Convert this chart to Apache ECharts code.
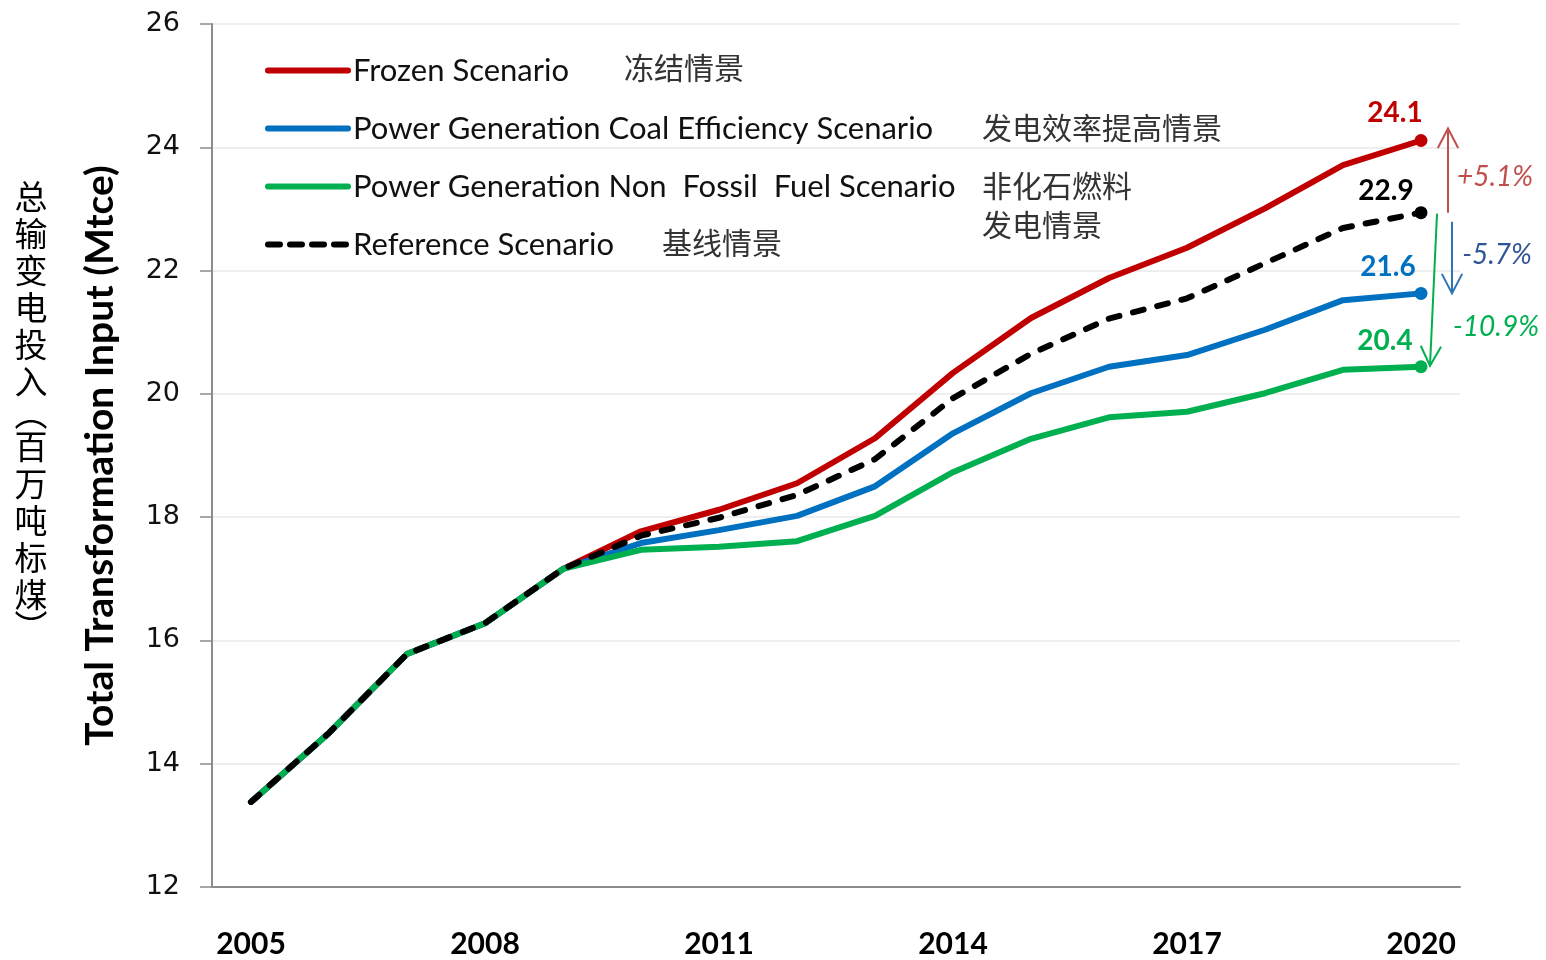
<!DOCTYPE html>
<html>
<head>
<meta charset="utf-8">
<script src="https://cdn.jsdelivr.net/npm/echarts@6.0.0/dist/echarts.min.js"></script>
</head>
<body style="margin:0">
<div id="main" style="width:1546px;height:960px;"></div>
<script type="text/javascript">
// data
var years = ['2005', '2006', '2007', '2008', '2009', '2010', '2011', '2012',
             '2013', '2014', '2015', '2016', '2017', '2018', '2019', '2020'];
var frozen = [13.38, 14.50, 15.78, 16.28, 17.16, 17.77, 18.12, 18.55, 19.28, 20.34, 21.23, 21.88, 22.37, 23.01, 23.71, 24.11];
var coalEff = [13.38, 14.50, 15.78, 16.28, 17.16, 17.58, 17.79, 18.02, 18.50, 19.36, 20.01, 20.44, 20.63, 21.04, 21.52, 21.63];
var nonFossil = [13.38, 14.50, 15.78, 16.28, 17.16, 17.47, 17.52, 17.61, 18.02, 18.73, 19.27, 19.62, 19.71, 20.01, 20.39, 20.44];
var reference = [13.38, 14.50, 15.78, 16.28, 17.16, 17.70, 17.99, 18.36, 18.94, 19.93, 20.65, 21.22, 21.55, 22.12, 22.69, 22.94];
var seriesNames = ['Frozen Scenario', 'Power Generation Coal Efficiency Scenario',
                   'Power Generation Non  Fossil  Fuel Scenario', 'Reference Scenario'];
var changeLabels = ['+5.1%', '-5.7%', '-10.9%'];
var yTitleZh = ['总', '输', '变', '电', '投', '入', '︵', '百', '万', '吨', '标', '煤', '︶'];

var myChart = echarts.init(document.getElementById('main'));
var last = years.length - 1;
var en = 'Lato';
var zh = '"Noto Sans CJK SC"';
var refDash = [11, 14];

function makeSeries(name, values, color, dashed, labelOffset) {
    return {
        name: name,
        type: 'line',
        data: values.map(function (v, i) {
            if (i !== last) return v;
            return {
                value: v,
                symbolSize: 13,
                label: {
                    show: true, position: 'top', offset: labelOffset,
                    formatter: function (p) { return p.value.toFixed(1); },
                    fontFamily: en, fontWeight: 'bold', fontSize: 28, color: color
                }
            };
        }),
        symbol: 'circle',
        symbolSize: 0,
        itemStyle: { color: color },
        lineStyle: { color: color, width: 6, type: dashed ? refDash : 'solid', cap: 'round' },
        emphasis: { disabled: true },
        animation: false
    };
}

var option = {
    grid: { left: 212, right: 86, top: 24, bottom: 73 },
    legend: {
        orient: 'vertical',
        left: 260,
        top: 50,
        itemWidth: 80,
        itemHeight: 14,
        itemGap: 27,
        itemStyle: { opacity: 0 },
        lineStyle: { width: 6, cap: 'round' },
        textStyle: { fontFamily: en, fontSize: 31, color: '#111', lineHeight: 31 },
        data: seriesNames.map(function (n, i) {
            return i === 3 ? { name: n, lineStyle: { width: 6, type: [12, 10], cap: 'round' } } : { name: n };
        })
    },
    xAxis: {
        type: 'category',
        data: years,
        boundaryGap: true,
        axisLine: { lineStyle: { color: '#8c8c8c', width: 2 } },
        axisTick: { interval: 0, length: 10, lineStyle: { color: '#8c8c8c', width: 1.5 } },
        axisLabel: {
            interval: 2, margin: 42,
            fontFamily: en, fontWeight: 'bold', fontSize: 30, color: '#000'
        }
    },
    yAxis: {
        type: 'value',
        min: 12, max: 26, interval: 2,
        name: 'Total Transformation Input (Mtce)',
        nameLocation: 'middle',
        nameGap: 92,
        nameTextStyle: { fontFamily: en, fontWeight: 'bold', fontSize: 39, color: '#000' },
        axisLine: { show: true, lineStyle: { color: '#8c8c8c', width: 2 } },
        axisTick: { show: true, length: 12, lineStyle: { color: '#8c8c8c', width: 1.5 } },
        axisLabel: { margin: 32, fontFamily: 'DejaVu Sans', fontSize: 27, color: '#111' },
        splitLine: { lineStyle: { color: '#eeeeee', width: 2 } }
    },
    series: [
        makeSeries(seriesNames[0], frozen, '#C00000', false, [-26, -2]),
        makeSeries(seriesNames[1], coalEff, '#0070C0', false, [-33, -1]),
        makeSeries(seriesNames[2], nonFossil, '#00B050', false, [-36, 0]),
        makeSeries(seriesNames[3], reference, '#000000', true, [-35, 4])
    ]
};
myChart.setOption(option);

// annotations placed from the data end points
function pt(v) { return myChart.convertToPixel({ gridIndex: 0 }, [years[last], v]); }
var pRed = pt(frozen[last]), pBlue = pt(coalEff[last]), pGreen = pt(nonFossil[last]), pRef = pt(reference[last]);

function arrow(x1, y1, x2, y2, color) {
    var ang = Math.atan2(y2 - y1, x2 - x1), hl = 22, hw = 0.48;
    var a = [x2 - hl * Math.cos(ang - hw), y2 - hl * Math.sin(ang - hw)];
    var b = [x2 - hl * Math.cos(ang + hw), y2 - hl * Math.sin(ang + hw)];
    return [
        { type: 'line', silent: true, shape: { x1: x1, y1: y1, x2: x2, y2: y2 }, style: { stroke: color, lineWidth: 2 } },
        { type: 'polyline', silent: true, shape: { points: [a, [x2, y2], b] }, style: { stroke: color, lineWidth: 2, fill: null } }
    ];
}
function note(x, y, txt, color) {
    return {
        type: 'text', silent: true, x: x, y: y,
        style: { text: txt, fill: color, font: 'italic 28px Lato', align: 'center', verticalAlign: 'middle' }
    };
}

var ex = pRef[0];
var graphics = []
    .concat(arrow(ex + 27, pRef[1], ex + 27, pRed[1] - 12, '#C0504D'))
    .concat(arrow(ex + 31, pRef[1] + 9, ex + 31, pBlue[1], '#2E75B6'))
    .concat(arrow(ex + 16, pRef[1] + 1, ex + 9, pGreen[1] - 1, '#00B050'));
graphics.push(note(ex + 74, (pRed[1] + pRef[1]) / 2, changeLabels[0], '#C0504D'));
graphics.push(note(ex + 76, (pBlue[1] + pRef[1]) / 2 + 2, changeLabels[1], '#2F5597'));
graphics.push(note(ex + 75, pGreen[1] - 40, changeLabels[2], '#00B050'));

// Chinese legend captions
var zhStyle = { fill: '#333', font: '30px ' + zh, verticalAlign: 'middle' };
[['冻结情景', 624, 68], ['发电效率提高情景', 982, 128], ['非化石燃料', 982, 186],
 ['发电情景', 982, 225], ['基线情景', 662, 243]].forEach(function (t) {
    graphics.push({ type: 'text', silent: true, x: t[1], y: t[2],
        style: Object.assign({ text: t[0] }, zhStyle) });
});

// vertical Chinese axis title
graphics.push({
    type: 'text', silent: true, x: 31, y: 409,
    style: {
        text: yTitleZh.map(function (c) {
            return (c === '︵' || c === '︶') ? '{p|' + c + '}' : '{c|' + c + '}';
        }).join('\n'),
        align: 'center', verticalAlign: 'middle',
        rich: {
            c: { fontFamily: 'Noto Sans CJK SC', fontSize: 33, lineHeight: 37, fill: '#000' },
            p: { fontFamily: 'Noto Sans CJK SC', fontSize: 33, lineHeight: 28, fill: '#000' }
        }
    }
});

myChart.setOption({ graphic: graphics });
</script>
</body>
</html>
